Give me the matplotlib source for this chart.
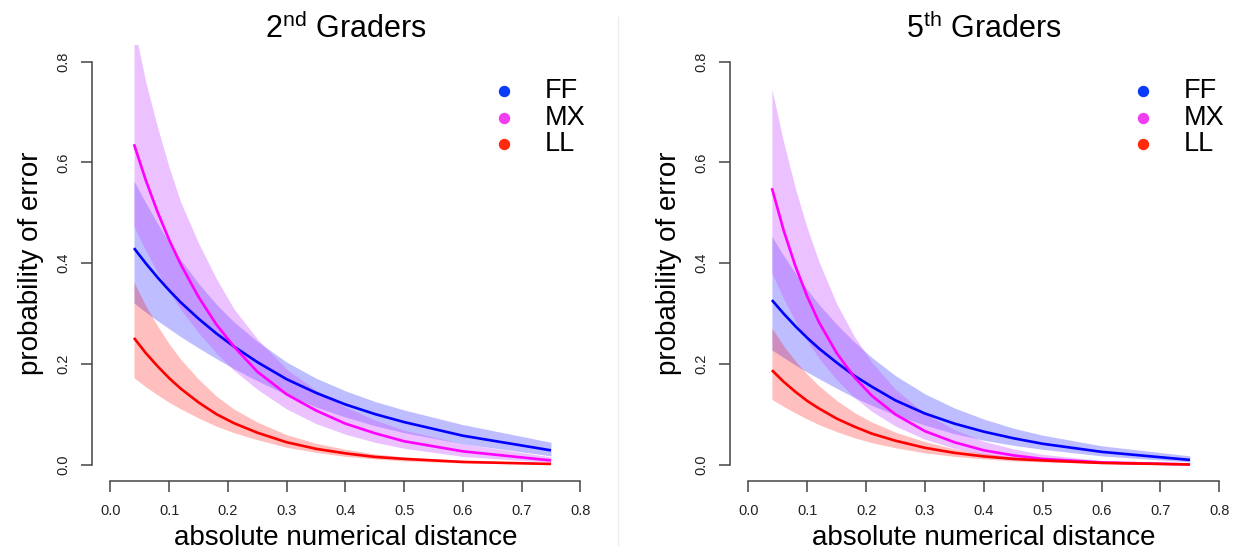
import matplotlib
matplotlib.use('Agg')
from matplotlib import pyplot as plt
from matplotlib.lines import Line2D
from matplotlib.ticker import FormatStrFormatter

plt.rcParams['font.family'] = ['Liberation Sans', 'DejaVu Sans']
plt.rcParams['mathtext.fontset'] = 'custom'
plt.rcParams['mathtext.rm'] = 'Liberation Sans'

# absolute numerical distance at which the fitted curves are evaluated
distance = [0.04, 0.06, 0.08, 0.10, 0.12, 0.15, 0.18, 0.21, 0.25, 0.30, 0.35, 0.40, 0.45, 0.50, 0.60, 0.75]

groups = ['FF', 'MX', 'LL']

# 2nd graders: fitted probability of error and its band
g2_ff = [0.430, 0.400, 0.372, 0.346, 0.322, 0.290, 0.261, 0.235, 0.204, 0.170, 0.143, 0.120, 0.101, 0.085, 0.058, 0.029]
g2_ff_lo = [0.321, 0.303, 0.286, 0.270, 0.254, 0.232, 0.211, 0.191, 0.167, 0.139, 0.115, 0.095, 0.078, 0.064, 0.042, 0.018]
g2_ff_hi = [0.563, 0.520, 0.479, 0.441, 0.406, 0.360, 0.319, 0.284, 0.245, 0.204, 0.172, 0.147, 0.126, 0.109, 0.080, 0.045]

g2_mx = [0.636, 0.565, 0.502, 0.446, 0.397, 0.333, 0.279, 0.235, 0.185, 0.140, 0.108, 0.082, 0.063, 0.047, 0.027, 0.009]
g2_mx_lo = [0.473, 0.425, 0.382, 0.343, 0.308, 0.262, 0.222, 0.188, 0.150, 0.111, 0.082, 0.061, 0.045, 0.033, 0.017, 0.005]
g2_mx_hi = [0.870, 0.760, 0.670, 0.590, 0.520, 0.440, 0.370, 0.310, 0.250, 0.190, 0.148, 0.115, 0.089, 0.069, 0.042, 0.016]

g2_ll = [0.252, 0.222, 0.196, 0.172, 0.151, 0.124, 0.101, 0.083, 0.064, 0.045, 0.032, 0.023, 0.016, 0.012, 0.006, 0.002]
g2_ll_lo = [0.173, 0.155, 0.139, 0.124, 0.111, 0.093, 0.077, 0.064, 0.050, 0.035, 0.025, 0.017, 0.012, 0.008, 0.004, 0.001]
g2_ll_hi = [0.362, 0.316, 0.276, 0.240, 0.209, 0.170, 0.137, 0.111, 0.085, 0.060, 0.043, 0.031, 0.022, 0.016, 0.009, 0.004]

# 5th graders
g5_ff = [0.327, 0.300, 0.275, 0.252, 0.231, 0.203, 0.177, 0.155, 0.128, 0.102, 0.082, 0.066, 0.053, 0.042, 0.026, 0.010]
g5_ff_lo = [0.228, 0.213, 0.198, 0.184, 0.171, 0.152, 0.134, 0.118, 0.099, 0.079, 0.062, 0.049, 0.039, 0.031, 0.018, 0.006]
g5_ff_hi = [0.453, 0.415, 0.380, 0.348, 0.318, 0.279, 0.244, 0.213, 0.177, 0.141, 0.113, 0.091, 0.073, 0.059, 0.038, 0.018]

g5_mx = [0.549, 0.465, 0.394, 0.334, 0.283, 0.222, 0.174, 0.137, 0.100, 0.067, 0.045, 0.029, 0.019, 0.012, 0.005, 0.001]
g5_mx_lo = [0.380, 0.330, 0.285, 0.246, 0.212, 0.169, 0.134, 0.106, 0.077, 0.051, 0.033, 0.021, 0.013, 0.008, 0.003, 0.0005]
g5_mx_hi = [0.745, 0.640, 0.548, 0.470, 0.403, 0.320, 0.255, 0.203, 0.150, 0.102, 0.070, 0.047, 0.032, 0.021, 0.009, 0.003]

g5_ll = [0.188, 0.165, 0.145, 0.127, 0.112, 0.092, 0.076, 0.062, 0.048, 0.034, 0.024, 0.017, 0.012, 0.009, 0.004, 0.001]
g5_ll_lo = [0.130, 0.116, 0.103, 0.091, 0.080, 0.066, 0.054, 0.044, 0.034, 0.024, 0.017, 0.012, 0.008, 0.006, 0.003, 0.0005]
g5_ll_hi = [0.271, 0.236, 0.206, 0.180, 0.157, 0.128, 0.104, 0.085, 0.065, 0.046, 0.032, 0.023, 0.016, 0.011, 0.006, 0.002]

line_colors = {'FF': '#0000FF', 'MX': '#FF00FF', 'LL': '#FF0000'}
band_colors = {'FF': '#0000FF', 'MX': '#CC55FF', 'LL': '#FF0000'}
band_alpha = {'FF': 0.26, 'MX': 0.36, 'LL': 0.25}
dot_colors = {'FF': '#0B3BF6', 'MX': '#F23CF2', 'LL': '#FF2A0B'}

panels = [
    ('2$^{\\mathrm{nd}}$ Graders', {'FF': (g2_ff_lo, g2_ff, g2_ff_hi),
                                    'MX': (g2_mx_lo, g2_mx, g2_mx_hi),
                                    'LL': (g2_ll_lo, g2_ll, g2_ll_hi)}),
    ('5$^{\\mathrm{th}}$ Graders', {'FF': (g5_ff_lo, g5_ff, g5_ff_hi),
                                    'MX': (g5_mx_lo, g5_mx, g5_mx_hi),
                                    'LL': (g5_ll_lo, g5_ll, g5_ll_hi)}),
]

W, H = 1239, 550
fig = plt.figure(figsize=(W / 100, H / 100), dpi=100, facecolor='white')
boxes = [(91.7, 599.1), (729.5, 1238.2)]
top, bottom = 45.4, 481.1

axis_grey = '#444444'

for (x0, x1), (title, series) in zip(boxes, panels):
    ax = fig.add_axes([x0 / W, 1 - bottom / H, (x1 - x0) / W, (bottom - top) / H])

    for name in groups:
        lo, mid, hi = series[name]
        ax.fill_between(distance, lo, hi, color=band_colors[name], alpha=band_alpha[name], lw=0)
    for name in groups:
        lo, mid, hi = series[name]
        ax.plot(distance, mid, color=line_colors[name], lw=1.9, solid_capstyle='butt')

    ax.set_xlim(-0.032, 0.832)
    ax.set_ylim(-0.032, 0.832)
    ax.set_xticks([0.0, 0.1, 0.2, 0.3, 0.4, 0.5, 0.6, 0.7, 0.8])
    ax.set_yticks([0.0, 0.2, 0.4, 0.6, 0.8])
    ax.xaxis.set_major_formatter(FormatStrFormatter('%.1f'))
    ax.yaxis.set_major_formatter(FormatStrFormatter('%.1f'))
    for side in ['top', 'right']:
        ax.spines[side].set_visible(False)
    for side in ['left', 'bottom']:
        ax.spines[side].set_bounds(0, 0.8)
        ax.spines[side].set_color(axis_grey)
        ax.spines[side].set_linewidth(1.1)
    ax.tick_params(direction='out', length=8, width=1.1, color=axis_grey,
                   labelsize=10.5, labelcolor='#222222')
    ax.tick_params(axis='x', pad=8.3)
    ax.tick_params(axis='y', pad=7.3)
    plt.setp(ax.get_yticklabels(), rotation=90, va='center')

    ax.set_title(title, fontsize=22, pad=5.3)
    ax.set_xlabel('absolute numerical distance', fontsize=20)
    ax.xaxis.set_label_coords(0.5, -0.100)
    ax.set_ylabel('probability of error', fontsize=20)
    ax.yaxis.set_label_coords(-0.094, 0.5)

    # key in the upper right corner
    for i, name in enumerate(groups):
        y = 0.8946 - i * 0.0605
        ax.plot([0.8126], [y], 'o', ms=8.2, color=dot_colors[name], mec='none',
                transform=ax.transAxes, clip_on=False)
        ax.text(0.8934, y, name, fontsize=19.5, va='center', ha='left',
                transform=ax.transAxes)

# thin divider between the two panels
fig.add_artist(Line2D([617.5 / W, 617.5 / W], [1 - 17 / H, 1 - 545 / H],
                      transform=fig.transFigure, color='#ECECEC', lw=1))

fig.savefig('out.png', dpi=100)
